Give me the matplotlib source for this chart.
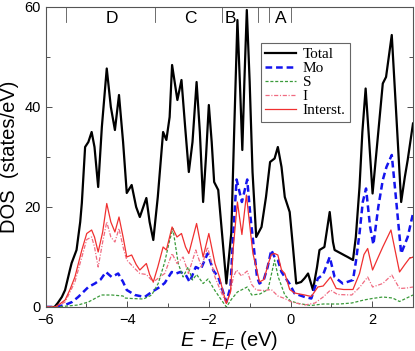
import matplotlib
matplotlib.use("Agg")
import matplotlib.pyplot as plt
from matplotlib.ticker import MultipleLocator

plt.rcParams['font.family'] = ['Liberation Sans', 'DejaVu Sans']
plt.rcParams['mathtext.fontset'] = 'custom'
plt.rcParams['mathtext.it'] = 'Liberation Sans:italic'
plt.rcParams['mathtext.rm'] = 'Liberation Sans'
plt.rcParams['lines.scale_dashes'] = False

# ---------------- data ----------------
total_e = [-6.0, -5.78, -5.70, -5.60, -5.52, -5.40, -5.36, -5.24, -5.15, -5.11, -5.03, -4.95, -4.87,
           -4.80, -4.71, -4.62, -4.50, -4.40, -4.30, -4.20, -4.10, -4.01, -3.89, -3.78, -3.69, -3.53,
           -3.45, -3.36, -3.25, -3.12, -3.04, -2.96, -2.90, -2.77, -2.67, -2.58, -2.49, -2.40, -2.30,
           -2.22, -2.14, -2.07, -2.00, -1.93, -1.87, -1.77, -1.68, -1.57, -1.45, -1.38, -1.30, -1.24,
           -1.18, -1.13, -1.07, -1.00, -0.93, -0.84, -0.71, -0.60, -0.50, -0.39, -0.31, -0.22, -0.14,
           -0.02, 0.06, 0.14, 0.26, 0.35, 0.43, 0.55, 0.65, 0.71, 0.83, 0.96, 1.04, 1.08, 1.24, 1.33,
           1.40, 1.53, 1.60, 1.69, 1.76, 1.84, 1.92, 2.01, 2.15, 2.26, 2.34, 2.48, 2.58, 2.71, 2.80,
           2.87, 3.0]
total_v = [0, 0, 0.8, 2, 3.4, 7.5, 8.8, 11.4, 17, 20.8, 32, 33, 35,
           32, 24, 36, 47.7, 40, 35.4, 42.4, 33, 22.8, 24.4, 20, 18, 21.8,
           17, 13.4, 22, 35, 33.4, 38, 48.4, 41.4, 45.4, 36, 27, 33, 45,
           35, 21, 30, 40.4, 33, 25, 23.4, 15, 4.7, 14.8, 35, 57.4, 45,
           31.4, 45, 59.4, 45, 27, 14, 16, 22, 29, 29.7, 32, 28, 22,
           19, 12, 4.7, 5, 5.8, 6.7, 3.4, 8, 11.4, 12, 19, 13, 11.4, 10.7, 10.3,
           10, 9.4, 14, 24, 35, 43.7, 34, 22.7, 35, 44.7, 46, 54.4, 40, 21, 26,
           29.4, 36.7]

mo_e = [-6.0, -5.78, -5.52, -5.35, -5.20, -5.05, -4.95, -4.79, -4.65, -4.52, -4.38, -4.22, -4.10,
        -4.01, -3.81, -3.57, -3.40, -3.20, -3.08, -2.91, -2.80, -2.70, -2.57, -2.47, -2.32, -2.20,
        -2.03, -1.89, -1.77, -1.65, -1.57, -1.47, -1.40, -1.32, -1.19, -1.06, -0.98, -0.90, -0.82,
        -0.76, -0.66, -0.56, -0.47, -0.38, -0.31, -0.22, -0.14, -0.02, 0.10, 0.35, 0.51, 0.60, 0.67,
        0.80, 0.96, 1.08, 1.28, 1.53, 1.60, 1.69, 1.77, 1.85, 1.95, 2.03, 2.15, 2.26, 2.35, 2.48,
        2.58, 2.71, 2.87, 3.0]
mo_v = [0, 0, 0.4, 1, 2, 3.2, 4, 4.7, 5.5, 7, 6, 6.7, 5,
        3.4, 2.4, 2, 3, 4, 4.8, 7, 6.7, 7, 6.5, 5, 8, 7.5,
        10.7, 7.3, 6, 3, 1, 4, 15, 25.5, 21, 25.5, 18, 12, 6,
        4.7, 5.3, 8, 11.4, 9.8, 9.4, 7, 6, 4.6, 2.7, 2, 1.7, 4, 5.7,
        6.5, 10, 6, 4.7, 5.4, 9, 14.7, 21, 23.7, 16, 12.5, 20, 25.4, 28, 30.4,
        22, 10.7, 14, 18.7]

s_e = [-6.0, -5.72, -5.20, -4.95, -4.63, -4.38, -4.10, -4.06, -3.90, -3.60, -3.40, -3.24, -3.08,
       -2.97, -2.88, -2.75, -2.63, -2.51, -2.40, -2.30, -2.14, -2.02, -1.86, -1.70, -1.57, -1.45,
       -1.30, -1.06, -0.95, -0.75, -0.55, -0.39, -0.30, -0.14, 0.0, 0.20, 0.50, 0.80, 1.20, 1.50,
       1.80, 2.00, 2.26, 2.50, 2.67, 3.0]
s_v = [0, 0, 0.4, 1, 2.4, 2.4, 2.2, 1.8, 1.7, 1.6, 2.4, 4.7, 9,
       13, 15.7, 8.7, 6, 8, 5.4, 6.5, 4.7, 5.6, 3.4, 1.5, 0, 1.5,
       3, 4, 2.4, 2.6, 3.5, 9.4, 6, 2.4, 1.2, 0.7, 0.3, 0.6, 0.6, 0.8,
       1.4, 1.7, 2, 1.8, 1.1, 2.4]

i_e = [-6.0, -5.76, -5.52, -5.28, -5.11, -4.99, -4.87, -4.80, -4.71, -4.60, -4.50, -4.40, -4.30,
       -4.20, -4.10, -4.01, -3.85, -3.69, -3.53, -3.36, -3.20, -3.08, -2.90, -2.78, -2.63, -2.50,
       -2.32, -2.18, -2.03, -1.85, -1.70, -1.57, -1.47, -1.40, -1.32, -1.20, -1.06, -0.95, -0.84,
       -0.65, -0.47, -0.31, -0.14, 0.02, 0.35, 0.60, 0.80, 0.98, 1.15, 1.50, 1.70, 1.89, 2.01,
       2.26, 2.48, 2.67, 2.85, 3.0]
i_v = [0, 0, 1, 5, 10, 13.5, 14, 12, 8, 13, 17, 14, 13,
       15.7, 12, 9.4, 8, 6.7, 6.5, 5, 6, 6.7, 10.7, 8.7, 10, 6.7,
       11.4, 8, 12, 6, 3, 0.7, 3, 6, 7.4, 6.2, 7.2, 4.5, 3.4,
       3.3, 3.5, 2.2, 1.7, 1, 0.4, 0.8, 2, 3.4, 2.5, 2.4, 4, 6, 4,
       4.7, 6.4, 3.7, 3.8, 4]

int_e = [-6.0, -5.76, -5.65, -5.52, -5.40, -5.28, -5.11, -4.99, -4.87, -4.80, -4.71, -4.60, -4.50,
         -4.40, -4.30, -4.20, -4.10, -4.01, -3.89, -3.78, -3.69, -3.53, -3.45, -3.36, -3.25, -3.12,
         -3.04, -2.90, -2.78, -2.67, -2.57, -2.49, -2.30, -2.14, -2.00, -1.85, -1.74, -1.65, -1.57,
         -1.47, -1.40, -1.30, -1.19, -1.08, -0.98, -0.92, -0.84, -0.76, -0.65, -0.55, -0.47, -0.39,
         -0.31, -0.22, -0.14, -0.02, 0.10, 0.35, 0.51, 0.67, 0.80, 0.98, 1.12, 1.30, 1.53, 1.69,
         1.80, 1.89, 2.01, 2.15, 2.26, 2.46, 2.67, 2.80, 2.91, 3.0]
int_v = [0, 0, 0.6, 1.4, 3.5, 6, 11.4, 14.7, 15.4, 14, 11, 15, 20.7,
         17, 15, 18, 14, 10, 10.4, 8.5, 7.4, 8.7, 6.5, 5, 8, 12,
         11.4, 16, 14, 14.7, 12, 10.7, 16.7, 10, 14.7, 8.7, 6, 3, 0.7,
         3, 12, 21, 14.5, 22.4, 15, 10.7, 8, 5, 5.5, 8.5, 10.5, 10.7,
         10.4, 7.4, 6.7, 3.5, 2.8, 2.4, 2.1, 4, 4.2, 6, 3.7, 3.5, 3.5, 6.7,
         10.5, 11.7, 7.4, 10, 12, 15.4, 7, 8.5, 9.7, 10]

series_labels = ['Total', 'Mo', 'S', 'I', 'Interst.']

region_edges = [-5.5, -3.33, -1.68, -0.79, -0.52, 0.0]
region_labels = ['D', 'C', 'B', 'A']
region_label_pos = [-4.37, -2.46, -1.48, -0.25]

# ---------------- figure ----------------
fig = plt.figure(figsize=(4.15, 3.51), dpi=100)
ax = fig.add_axes([45.5 / 415, 44 / 351, 367.5 / 415, 300 / 351])

ax.plot(total_e, total_v, color='black', lw=1.6, label=series_labels[0], solid_joinstyle='round')
ax.plot(mo_e, mo_v, color='#1414ee', lw=1.8, dashes=(4.8, 2.8), label=series_labels[1])
ax.plot(s_e, s_v, color='#3a9a3a', lw=0.9, dashes=(2.2, 1.3), label=series_labels[2])
ax.plot(i_e, i_v, color='#f06a80', lw=0.9, dashes=(3.0, 1.2, 0.8, 1.2), label=series_labels[3])
ax.plot(int_e, int_v, color='#f03030', lw=0.9, label=series_labels[4])

ax.set_xlim(-6, 3)
ax.set_ylim(0, 60)
ax.xaxis.set_major_locator(MultipleLocator(2))
ax.xaxis.set_minor_locator(MultipleLocator(1))
ax.yaxis.set_major_locator(MultipleLocator(20))
ax.yaxis.set_minor_locator(MultipleLocator(10))
ax.tick_params(which='both', direction='in', top=False, right=True, labelsize=10.5, colors='#333333',
               labelcolor='black', width=0.6)
ax.tick_params(which='major', length=4.3)
ax.tick_params(which='minor', length=2.9)
ax.tick_params(axis='x', which='major', pad=4.5)
ax.tick_params(axis='y', which='major', pad=3.5)
for sp in ax.spines.values():
    sp.set_color('#555555')
    sp.set_linewidth(0.8)

# region markers on the top edge
for e in region_edges:
    ax.plot([e, e], [1.0, 0.95], color='#555555', lw=0.6, transform=ax.get_xaxis_transform(),
            clip_on=False)
for lab, e in zip(region_labels, region_label_pos):
    ax.text(e, 0.962, lab, transform=ax.get_xaxis_transform(), ha='center', va='center',
            fontsize=12.5)

ax.set_xlabel(r'$E$ - $E_F$ (eV)', fontsize=14.5, labelpad=1)
ax.set_ylabel('DOS  (states/eV)', fontsize=14.5, labelpad=4)

leg = ax.legend(loc='upper left', bbox_to_anchor=(0.586, 0.88),
                prop={'family': 'Liberation Serif', 'size': 11},
                frameon=True, fancybox=False, edgecolor='#666666', framealpha=1,
                labelspacing=0.02, handlelength=2.0, handletextpad=0.45, borderpad=0.3,
                borderaxespad=0)
leg.get_frame().set_linewidth(0.8)

fig.savefig('out.png', dpi=100)
